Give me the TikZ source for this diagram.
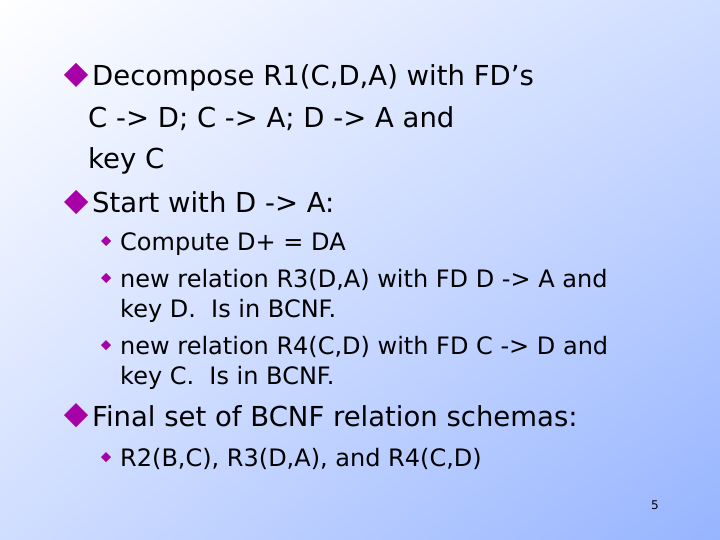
\documentclass[tikz,border=0pt]{standalone}
\usepackage{fontspec}
\usetikzlibrary{shadings}
\setmainfont{DejaVu Sans}
\begin{document}
\begin{tikzpicture}[x=1pt,y=-1pt,
  big/.style={anchor=base west,inner sep=0pt,font=\fontsize{27.5}{30}\selectfont},
  small/.style={anchor=base west,inner sep=0pt,font=\fontsize{24}{26}\selectfont},
  bul/.style={fill=violet!70!magenta,draw=none}]
\definecolor{bgblue}{RGB}{150,180,255}
\begin{scope}[yscale=-1]
\shade[upper left=white,lower right=bgblue,upper right=bgblue!45,lower left=bgblue!45] (0,0) rectangle (720,-540);
\end{scope}
\useasboundingbox (0,0) rectangle (720,540);
\newcommand\bigdia[2]{\fill[bul] (#1-12,#2) -- (#1,#2-12) -- (#1+12,#2) -- (#1,#2+12) -- cycle;}
\newcommand\smdia[2]{\fill[bul] (#1-5,#2) -- (#1,#2-5) -- (#1+5,#2) -- (#1,#2+5) -- cycle;}
\bigdia{76}{75}
\node[big] (l1) at (92,86) {Decompose R1(C,D,A) with FD\symbol{39}s};
\node[big] (l2) at (88,128) {C -> D; C -> A; D -> A and};
\node[big] (l3) at (88,169) {key C};
\bigdia{76}{202}
\node[big] (l4) at (92,213) {Start with D -> A:};
\smdia{106}{241}
\node[small] (s1) at (120,250) {Compute D+ = DA};
\smdia{106}{278}
\node[small] (s2) at (120,287) {new relation R3(D,A) with FD D -> A and};
\node[small] (s3) at (120,317) {key D.\ \ Is in BCNF.};
\smdia{106}{345}
\node[small] (s4) at (120,354) {new relation R4(C,D) with FD C -> D and};
\node[small] (s5) at (120,384) {key C.\ \ Is in BCNF.};
\bigdia{76}{415}
\node[big] (l5) at (92,426) {Final set of BCNF relation schemas:};
\smdia{106}{457}
\node[small] (s6) at (120,466) {R2(B,C), R3(D,A), and R4(C,D)};
\node[anchor=base,inner sep=0pt,font=\fontsize{12}{14}\selectfont] (pg) at (655,509) {5};
\end{tikzpicture}
\end{document}
